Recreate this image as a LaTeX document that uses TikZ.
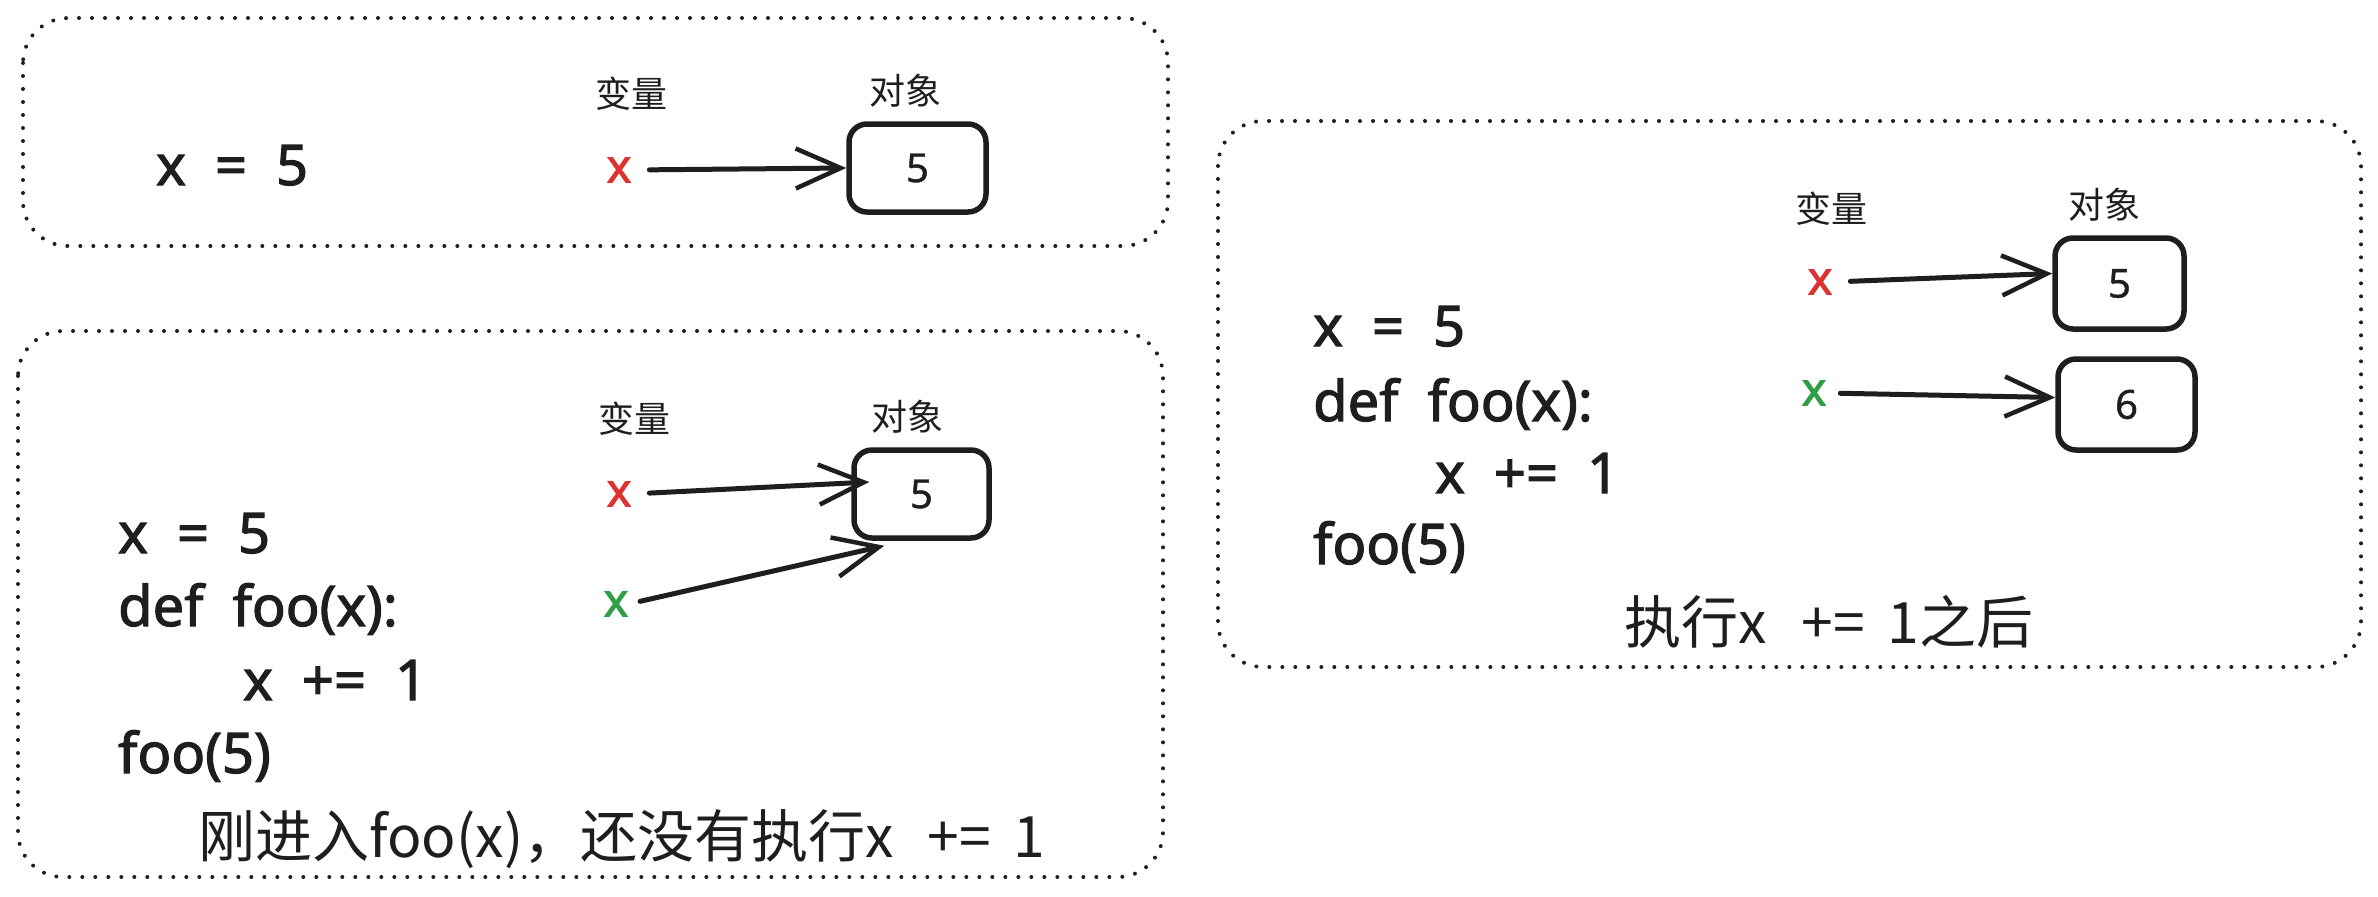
\documentclass[tikz,border=0pt]{standalone}
\usepackage{fontspec}
\setmainfont{Noto Sans CJK SC}
\newfontfamily\codefont{Noto Sans}[WordSpace=2.0,FakeBold=2]
\newfontfamily\numfont{Noto Sans}[FakeBold=1]
\usetikzlibrary{arrows.meta,calc}
\definecolor{redx}{HTML}{E03131}
\definecolor{greenx}{HTML}{2F9E44}
\definecolor{ink}{HTML}{1E1E1E}
\begin{document}
\begin{tikzpicture}[x=1pt,y=-1pt,
 frame/.style={draw=ink, line width=4pt, dash pattern=on 0pt off 13pt, line cap=round, rounded corners=45pt},
 objbox/.style={draw=ink, line width=5.5pt, rounded corners=18pt, font=\numfont\fontsize{40}{44}\selectfont, inner sep=0pt, text=ink},
 code/.style={anchor=base west, inner sep=0pt, text=ink, font=\codefont\fontsize{56}{60}\selectfont},
 lab/.style={inner sep=0pt, text=ink, font=\fontsize{36}{40}\selectfont},
 captxt/.style={anchor=base, inner sep=0pt, text=ink, font=\fontsize{57}{60}\selectfont},
 var/.style={inner sep=0pt, font=\codefont\fontsize{46}{48}\selectfont},
 arr/.style={draw=ink, line width=5pt, line cap=round, -{Straight Barb[length=45pt,width=40pt,line width=4.5pt]}},
]
\useasboundingbox (0,0) rectangle (2378,897);

% ---------- panel 1 ----------
\draw[frame] (23,18) rectangle (1168,246);
\node[code] (c1a) at (156,185) {x = 5};
\node[lab] (l1v) at (631,94) {变量};
\node[lab] (l1o) at (905,91) {对象};
\node[var, text=redx] (v1) at (619,170) {x};
\node[objbox, minimum width=137pt, minimum height=88pt] (o1) at (917.5,168) {5};
\draw[arr, shorten <=18pt] (v1.east) -- (o1.west);

% ---------- panel 2 ----------
\draw[frame] (18,331) rectangle (1163,877);
\node[code] (c2a) at (118,553) {x = 5};
\node[code] (c2b) at (118,626) {def foo(x):};
\node[code] (c2c) at (243,700) {x += 1};
\node[code] (c2d) at (118,773) {foo(5)};
\node[lab] (l2v) at (634,419) {变量};
\node[lab] (l2o) at (907,417) {对象};
\node[var, text=redx] (v2) at (619,494) {x};
\node[var, text=greenx] (v3) at (616,604) {x};
\node[objbox, minimum width=135pt, minimum height=88pt] (o2) at (921.5,494) {5};
\coordinate (e2r) at ($(o2.west)+(18,-12)$);
\coordinate (e2g) at ($(o2.south west)+(33,5)$);
\draw[arr, shorten <=18pt] (v2.east) -- (e2r);
\draw[arr, shorten <=12pt] (v3.east) -- (e2g);
\node[captxt] (cap2) at (622,857) {刚进入foo(x)，还没有执行x\hspace{0.6em}+=\hspace{0.4em}1};

% ---------- panel 3 ----------
\draw[frame] (1218,121) rectangle (2361,667);
\node[code] (c3a) at (1313,346) {x = 5};
\node[code] (c3b) at (1313,421) {def foo(x):};
\node[code] (c3c) at (1435,493) {x += 1};
\node[code] (c3d) at (1313,564) {foo(5)};
\node[lab] (l3v) at (1831,209) {变量};
\node[lab] (l3o) at (2104,205) {对象};
\node[var, text=redx] (v4) at (1820,282) {x};
\node[var, text=greenx] (v5) at (1814,393) {x};
\node[objbox, minimum width=129pt, minimum height=91pt] (o3) at (2119.5,283.5) {5};
\node[objbox, minimum width=137pt, minimum height=91pt] (o4) at (2126.5,404.5) {6};
\coordinate (e3r) at ($(o3.west)+(0,-10)$);
\coordinate (e3g) at ($(o4.west)+(0,-7)$);
\draw[arr, shorten <=18pt] (v4.east) -- (e3r);
\draw[arr, shorten <=14pt] (v5.east) -- (e3g);
\node[captxt] (cap3) at (1829,643) {执行x\hspace{0.6em}+=\hspace{0.4em}1之后};
\end{tikzpicture}
\end{document}
